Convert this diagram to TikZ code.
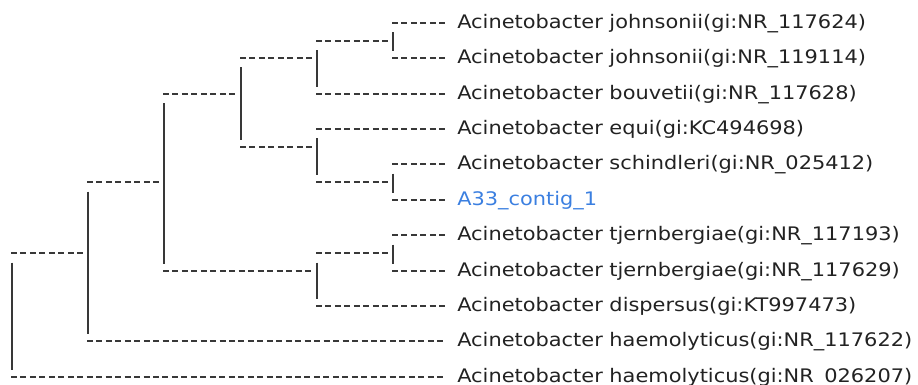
\documentclass[tikz,border=0pt]{standalone}
\usepackage{fontspec}
\newfontfamily\treefont[FakeStretch=1.12]{DejaVu Sans}
\usetikzlibrary{calc}
\definecolor{linec}{HTML}{383838}
\definecolor{textc}{HTML}{222222}
\definecolor{bluec}{HTML}{3B7FE0}
\begin{document}
\begin{tikzpicture}[x=0.75pt,y=-0.75pt,
 hd/.style={draw=linec,line width=1.5pt,dash pattern=on 4.5pt off 2.6pt},
 vb/.style={draw=linec,line width=1.5pt},
 leaf/.style={anchor=base west,inner sep=0pt,text=textc,font=\treefont\fontsize{14pt}{16pt}\selectfont}]
\useasboundingbox (0,0) rectangle (918,385);

% leaf ends
\coordinate (e1) at (446,23);
\coordinate (e2) at (446,58);
\coordinate (e3) at (446,94);
\coordinate (e4) at (446,129);
\coordinate (e5) at (446,164);
\coordinate (e6) at (446,200);
\coordinate (e7) at (446,235);
\coordinate (e8) at (446,271);
\coordinate (e9) at (446,306);
\coordinate (e10) at (446,341);
\coordinate (e11) at (446,377);

% internal nodes
\coordinate (n1) at (393,41);
\coordinate (n2) at (317,58);
\coordinate (n3) at (393,182);
\coordinate (n4) at (317,147);
\coordinate (n5) at (241,94);
\coordinate (n6) at (393,253);
\coordinate (n7) at (317,271);
\coordinate (n8) at (164,182);
\coordinate (n9) at (88,253);
\coordinate (n0) at (12,315);

% labels
\node[leaf] (L1) at ($(e1)+(11,5.6)$) {Acinetobacter johnsonii(gi:NR\_117624)};
\node[leaf] (L2) at ($(e2)+(11,5.6)$) {Acinetobacter johnsonii(gi:NR\_119114)};
\node[leaf] (L3) at ($(e3)+(11,5.6)$) {Acinetobacter bouvetii(gi:NR\_117628)};
\node[leaf] (L4) at ($(e4)+(11,5.6)$) {Acinetobacter equi(gi:KC494698)};
\node[leaf] (L5) at ($(e5)+(11,5.6)$) {Acinetobacter schindleri(gi:NR\_025412)};
\node[leaf,text=bluec] (L6) at ($(e6)+(11,5.6)$) {A33\_contig\_1};
\node[leaf] (L7) at ($(e7)+(11,5.6)$) {Acinetobacter tjernbergiae(gi:NR\_117193)};
\node[leaf] (L8) at ($(e8)+(11,5.6)$) {Acinetobacter tjernbergiae(gi:NR\_117629)};
\node[leaf] (L9) at ($(e9)+(11,5.6)$) {Acinetobacter dispersus(gi:KT997473)};
\node[leaf] (L10) at ($(e10)+(11,5.6)$) {Acinetobacter haemolyticus(gi:NR\_117622)};
\node[leaf] (L11) at ($(e11)+(11,5.6)$) {Acinetobacter haemolyticus(gi:NR\_026207)};

% vertical bars
\foreach \p/\a/\b in {n1/e1/e2, n2/n1/e3, n3/e5/e6, n4/e4/n3, n5/n2/n4, n6/e7/e8, n7/n6/e9, n8/n5/n7, n9/n8/e10, n0/n9/e11}
  \draw[vb] ($(\p |- \a)+(0,9.5)$) -- ($(\p |- \b)+(0,-6.8)$);

% internal branches
\foreach \p/\c in {n2/n1, n4/n3, n5/n2, n5/n4, n7/n6, n8/n5, n8/n7, n9/n8, n0/n9}
  \draw[hd] ($(\p |- \c)+(-1,0)$) -- ($(\c)+(-4.5,0)$);

% leaf branches
\foreach \p/\c in {n1/e1, n1/e2, n2/e3, n4/e4, n3/e5, n3/e6, n6/e7, n6/e8, n7/e9, n9/e10, n0/e11}
  \draw[hd] ($(\p |- \c)+(-1,0)$) -- (\c);
\end{tikzpicture}
\end{document}
